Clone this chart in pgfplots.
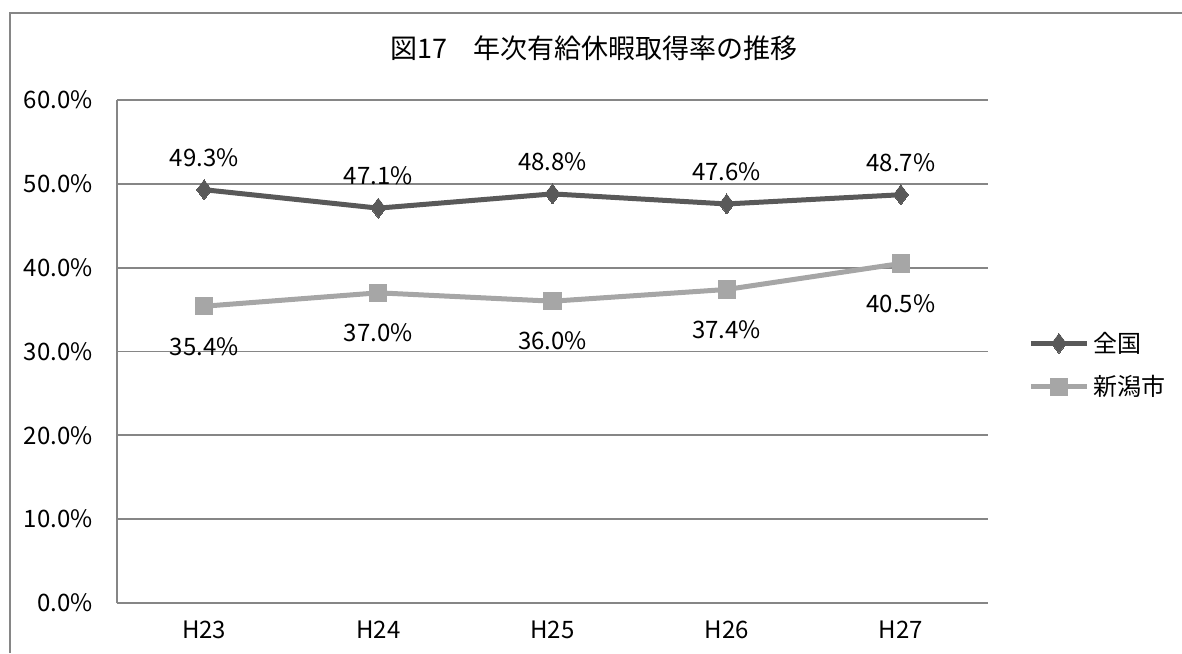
\documentclass[border=0pt]{standalone}
\usepackage{fontspec}
\setmainfont{Noto Sans CJK JP}
\usepackage{pgfplots}
\pgfplotsset{compat=1.18}
\definecolor{darkser}{HTML}{595959}
\definecolor{lightser}{HTML}{A6A6A6}
\definecolor{gridc}{HTML}{868686}
\begin{document}
\begin{tikzpicture}[x=1pt,y=1pt]
\useasboundingbox (0,0) rectangle (591,326.5);
\draw[gridc, line width=0.9pt] (5,0) -- (5,320) -- (591,320);
\node[font=\fontsize{13.5}{16}\selectfont] at (297,302.5) {図17　年次有給休暇取得率の推移};
\begin{axis}[
  at={(58.5pt,25pt)}, anchor=south west, scale only axis,
  width=435.5pt, height=251.5pt,
  xmin=-0.5, xmax=4.5, ymin=0, ymax=60,
  axis x line=bottom, axis y line=left,
  axis line style={gridc, line width=0.9pt, -},
  major tick length=0pt,
  xtick={0,1,2,3,4},
  xticklabels={H23,H24,H25,H26,H27},
  ytick={0,10,20,30,40,50,60},
  yticklabels={0.0\%,10.0\%,20.0\%,30.0\%,40.0\%,50.0\%,60.0\%},
  ymajorgrids, major grid style={gridc, line width=0.9pt},
  tick label style={font=\fontsize{12}{14}\selectfont},
  yticklabel style={anchor=east, inner sep=0pt, xshift=-12pt},
  xticklabel style={anchor=center, inner sep=0pt, yshift=-13.5pt},
  /pgf/number format/assume math mode=true,
  clip=false,
  legend style={draw=none, fill=none, at={(1.046,0.473)}, anchor=west, inner sep=0pt,
    row sep=6pt, font=\fontsize{12}{14}\selectfont, cells={anchor=west}},
  legend image code/.code={\draw[mark repeat=2,mark phase=2,#1] plot coordinates {(0pt,0pt) (14pt,0pt) (28pt,0pt)};},
  nodes near coords={\pgfmathprintnumber[fixed,fixed zerofill,precision=1]{\pgfplotspointmeta}\%},
  every node near coord/.append style={font=\fontsize{12}{14}\selectfont, anchor=center, text=black},
]
\addplot[darkser, line width=2.5pt, mark=diamond*, mark size=5pt, mark options={fill=darkser, draw=darkser, line width=0pt},
  every node near coord/.append style={yshift=16pt}]
  coordinates {(0,49.3) (1,47.1) (2,48.8) (3,47.6) (4,48.7)};
\addlegendentry{全国}
\addplot[lightser, line width=2.5pt, mark=square*, mark size=4.3pt, mark options={fill=lightser, draw=lightser, line width=0pt},
  every node near coord/.append style={yshift=-20pt}]
  coordinates {(0,35.4) (1,37.0) (2,36.0) (3,37.4) (4,40.5)};
\addlegendentry{新潟市}
\end{axis}
\end{tikzpicture}
\end{document}
